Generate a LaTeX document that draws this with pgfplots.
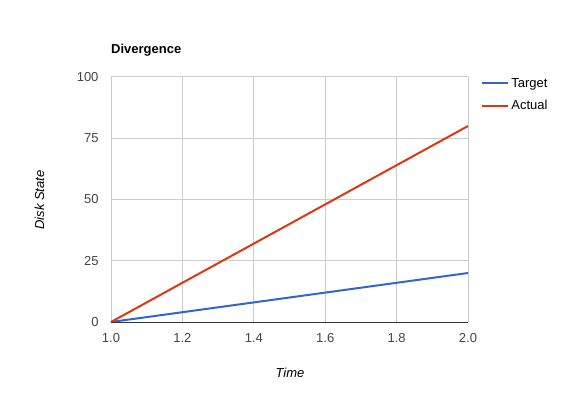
\documentclass[border=0pt]{standalone}
\usepackage{pgfplots}
\pgfplotsset{compat=1.18}
\usepackage{fontspec}
\setmainfont{Liberation Sans}
\definecolor{gblue}{HTML}{3366CC}
\definecolor{gred}{HTML}{DC3912}
\definecolor{ggrid}{HTML}{CCCCCC}
\definecolor{gtick}{HTML}{444444}
\begin{document}
\begin{tikzpicture}[x=1bp,y=1bp]
\useasboundingbox (0,0) rectangle (580,399);
\begin{axis}[
  at={(111bp,77bp)}, anchor=south west,
  scale only axis, width=357bp, height=245bp,
  xmin=1, xmax=2, ymin=0, ymax=100,
  xtick={1,1.2,1.4,1.6,1.8,2},
  xticklabels={1.0,1.2,1.4,1.6,1.8,2.0},
  ytick={0,25,50,75,100},
  grid=major,
  major grid style={ggrid, line width=1bp},
  axis line style={draw=none},
  tick style={draw=none},
  tick label style={font=\fontsize{13bp}{15bp}\selectfont, text=gtick},
  /pgf/number format/assume math mode=true,
  xticklabel style={yshift=-8bp},
  yticklabel style={xshift=-9bp},
  legend style={at={(1.037,1.004)}, anchor=north west, draw=none, fill=none,
    font=\fontsize{13bp}{15bp}\selectfont, row sep=7.5bp, inner sep=0pt,
    nodes={inner sep=2bp}},
  legend cell align=left,
  legend image post style={line width=2bp},
  legend image code/.code={\draw[#1] (0bp,0bp) -- (26bp,0bp);},
  clip=false,
]
\addplot[gblue, line width=2bp] coordinates {(1,0) (2,20)};
\addlegendentry{Target}
\addplot[gred, line width=2bp] coordinates {(1,0) (2,80)};
\addlegendentry{Actual}
\addplot[black!80, line width=1bp, forget plot] coordinates {(1,0) (2,0)};
\end{axis}
\node[anchor=base west, inner sep=0pt, font=\bfseries\fontsize{13bp}{15bp}\selectfont] at (111,346) {Divergence};
\node[anchor=base, font=\itshape\fontsize{13bp}{15bp}\selectfont] at (290,22) {Time};
\node[anchor=base, rotate=90, font=\itshape\fontsize{13bp}{15bp}\selectfont] at (44,199) {Disk State};
\end{tikzpicture}
\end{document}
